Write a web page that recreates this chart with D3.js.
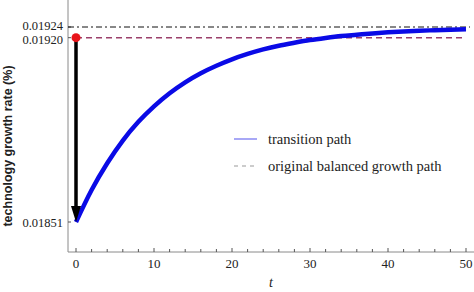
<!DOCTYPE html>
<html>
<head>
<meta charset="utf-8">
<script src="https://cdn.jsdelivr.net/npm/d3@7"></script>
<style>
  body { margin: 0; background: #fff; }
  svg { display: block; }
</style>
</head>
<body>
<svg id="chart" width="474" height="292"></svg>
<script>
// transition path (t, growth rate)
const times = [0, 2, 4, 6, 8, 10, 12, 14, 16, 18, 20, 22, 24, 26, 28, 30, 32, 34, 36, 38, 40, 42, 44, 46, 48, 50];
const rates = [0.01851, 0.01863, 0.01873, 0.018815, 0.018885, 0.018943, 0.018992, 0.019033, 0.019067, 0.019095,
  0.019119, 0.019139, 0.019156, 0.01917, 0.019181, 0.019191, 0.019199, 0.019206, 0.019211, 0.019216,
  0.01922, 0.019223, 0.019226, 0.019228, 0.01923, 0.019232];
const newRate = 0.01924;
const oldRate = 0.01920;
const jumpRate = 0.01851;
const xTicks = [0, 10, 20, 30, 40, 50];
const xMinorTicks = d3.range(0, 53, 2);
const yTicks = [0.01851, 0.01920, 0.01924];
const legendLabels = ['transition path', 'original balanced growth path'];

const svg = d3.select('#chart');
const width = 474, height = 292;
const margin = { left: 68, bottom: 252 };

const x = d3.scaleLinear().domain([0, 50]).range([76, 466]);
const y = d3.scaleLinear().domain([0.01851, 0.01924]).range([222, 27]);

const serif = '"Liberation Serif", "Times New Roman", serif';
const axisColor = '#8a8a8a';

// axes
svg.append('line')
  .attr('x1', margin.left).attr('x2', margin.left)
  .attr('y1', 0).attr('y2', margin.bottom)
  .attr('stroke', axisColor).attr('stroke-width', 1);
svg.append('line')
  .attr('x1', margin.left).attr('x2', width)
  .attr('y1', margin.bottom).attr('y2', margin.bottom)
  .attr('stroke', axisColor).attr('stroke-width', 1);

// x ticks (inward)
svg.selectAll('.xminor')
  .data(xMinorTicks)
  .enter()
  .append('line')
  .attr('x1', d => x(d)).attr('x2', d => x(d))
  .attr('y1', margin.bottom).attr('y2', d => margin.bottom - (d % 10 === 0 ? 4 : 3))
  .attr('stroke', '#555').attr('stroke-width', 1);

svg.selectAll('.xlab')
  .data(xTicks)
  .enter()
  .append('text')
  .attr('x', d => x(d))
  .attr('y', 268)
  .attr('text-anchor', 'middle')
  .attr('font-family', serif)
  .attr('font-size', 13)
  .attr('fill', '#222')
  .text(d => d);

// y ticks
svg.selectAll('.ytick')
  .data(yTicks)
  .enter()
  .append('line')
  .attr('x1', margin.left).attr('x2', margin.left + 3)
  .attr('y1', d => y(d)).attr('y2', d => y(d))
  .attr('stroke', '#555');

// the two upper labels sit close together; nudge them apart a little
const labelShift = { 0.01924: -1.5, 0.01920: 1.5, 0.01851: 0 };
svg.selectAll('.ylab')
  .data(yTicks)
  .enter()
  .append('text')
  .attr('x', 63)
  .attr('y', d => y(d) + 4.5 + labelShift[d])
  .attr('text-anchor', 'end')
  .attr('font-family', serif)
  .attr('font-size', 12.5)
  .attr('fill', '#222')
  .text(d => d.toFixed(5));

// reference lines
svg.append('line')
  .attr('x1', margin.left).attr('x2', 470)
  .attr('y1', y(newRate)).attr('y2', y(newRate))
  .attr('stroke', '#111').attr('stroke-width', 1)
  .attr('stroke-dasharray', '6,3,2,3');

svg.append('line')
  .attr('x1', x(0)).attr('x2', x(50))
  .attr('y1', y(oldRate)).attr('y2', y(oldRate))
  .attr('stroke', '#9b3f6b').attr('stroke-width', 1.6)
  .attr('stroke-dasharray', '6,4');

// transition path
const line = d3.line()
  .x((d, i) => x(times[i]))
  .y(d => y(d))
  .curve(d3.curveMonotoneX);

svg.append('path')
  .datum(rates)
  .attr('d', line)
  .attr('fill', 'none')
  .attr('stroke', '#0a0ae6')
  .attr('stroke-width', 4.5)
  .attr('stroke-linecap', 'butt');

// jump arrow
const tipY = y(jumpRate);
svg.append('line')
  .attr('x1', x(0)).attr('x2', x(0))
  .attr('y1', y(oldRate)).attr('y2', tipY - 12)
  .attr('stroke', '#000').attr('stroke-width', 3.5);
svg.append('path')
  .attr('d', `M${x(0) - 5},${tipY - 16} L${x(0) + 5},${tipY - 16} L${x(0)},${tipY} Z`)
  .attr('fill', '#000');

svg.append('circle')
  .attr('cx', x(0)).attr('cy', y(oldRate))
  .attr('r', 4.5)
  .attr('fill', '#e8141a');

// legend
const legend = svg.append('g').attr('transform', 'translate(234, 139)');
legend.append('line')
  .attr('x1', 0).attr('x2', 23).attr('y1', 0).attr('y2', 0)
  .attr('stroke', '#6f6ff0').attr('stroke-width', 1.2);
legend.append('line')
  .attr('x1', 0).attr('x2', 23).attr('y1', 27).attr('y2', 27)
  .attr('stroke', '#999').attr('stroke-width', 1)
  .attr('stroke-dasharray', '4,4');
legend.selectAll('text')
  .data(legendLabels)
  .enter()
  .append('text')
  .attr('x', 34)
  .attr('y', (d, i) => 5 + i * 27)
  .attr('font-family', serif)
  .attr('font-size', 14.5)
  .attr('fill', '#222')
  .text(d => d);

// axis titles
svg.append('text')
  .attr('transform', 'translate(12, 146) rotate(-90)')
  .attr('text-anchor', 'middle')
  .attr('font-family', '"Liberation Sans", Arial, sans-serif')
  .attr('font-weight', 'bold')
  .attr('font-size', 12.5)
  .attr('fill', '#222')
  .text('technology growth rate (%)');

svg.append('text')
  .attr('x', 271)
  .attr('y', 287)
  .attr('text-anchor', 'middle')
  .attr('font-family', serif)
  .attr('font-style', 'italic')
  .attr('font-size', 14)
  .attr('fill', '#222')
  .text('t');
</script>
</body>
</html>
